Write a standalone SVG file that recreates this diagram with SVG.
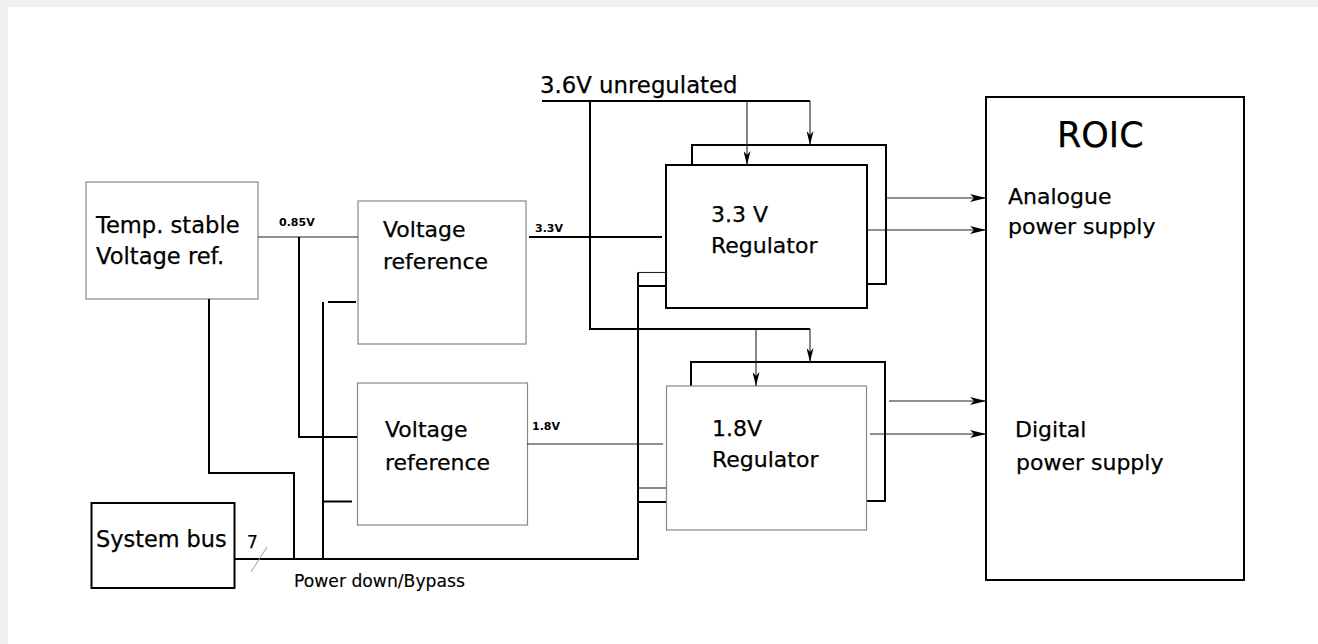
<svg xmlns="http://www.w3.org/2000/svg" width="1318" height="644" viewBox="0 0 1318 644">
<style>
.t{font-family:"DejaVu Sans","Liberation Sans",sans-serif;fill:#000;stroke:#000;stroke-width:0.25;font-size:22px}
.s{font-family:"DejaVu Sans","Liberation Sans",sans-serif;fill:#000;font-size:11px;font-weight:bold}
.box{fill:#fff;stroke:#000;stroke-width:2}
.gbox{fill:#fff;stroke:#888;stroke-width:1.2}
.w{fill:none;stroke:#000;stroke-width:2}
.n{fill:none;stroke:#222;stroke-width:1.1}
.g{fill:none;stroke:#999;stroke-width:1}
</style>
<defs>
<marker id="ad" markerUnits="userSpaceOnUse" viewBox="0 0 14 7" refX="14" refY="3.5" markerWidth="14" markerHeight="7" orient="auto">
<path d="M0,0 L14,3.5 L0,7 L4,3.5 Z" fill="#000"/>
</marker>
<marker id="ar" markerUnits="userSpaceOnUse" viewBox="0 0 16 8" refX="16" refY="4" markerWidth="16" markerHeight="8" orient="auto">
<path d="M0,0 L16,4 L0,8 L4,4 Z" fill="#000"/>
</marker>
</defs>
<rect x="0" y="0" width="1318" height="644" fill="#f0f0f0"/>
<rect x="8" y="7" width="1310" height="637" fill="#fff"/>

<g id="temp-ref">
<rect class="gbox" x="86" y="182" width="172" height="117"/>
<text class="t" x="96" y="233" style="font-size:22.6px">Temp. stable</text>
<text class="t" x="96" y="264" style="font-size:22.6px">Voltage ref.</text>
</g>

<g id="vref-33">
<rect class="gbox" x="358" y="201" width="168" height="143"/>
<text class="t" x="383" y="237">Voltage</text>
<text class="t" x="383" y="269">reference</text>
</g>

<g id="vref-18">
<rect class="gbox" x="357.5" y="383" width="170" height="142"/>
<text class="t" x="385" y="437">Voltage</text>
<text class="t" x="385" y="470">reference</text>
</g>

<g id="reg-33">
<rect class="box" x="692" y="145" width="194" height="139"/>
<rect class="box" x="666" y="165" width="201" height="143"/>
<text class="t" x="711" y="222">3.3 V</text>
<text class="t" x="711" y="253">Regulator</text>
</g>

<g id="reg-18">
<rect class="box" x="691" y="362" width="194" height="139"/>
<rect class="gbox" x="666.5" y="386" width="200" height="144"/>
<text class="t" x="712" y="436">1.8V</text>
<text class="t" x="712" y="467">Regulator</text>
</g>

<g id="roic">
<rect class="box" x="986" y="97" width="258" height="483"/>
<text class="t" x="1057" y="147" style="font-size:35px">ROIC</text>
<text class="t" x="1008" y="204">Analogue</text>
<text class="t" x="1008" y="234">power supply</text>
<text class="t" x="1015" y="437">Digital</text>
<text class="t" x="1016" y="470">power supply</text>
</g>

<g id="sysbus">
<rect class="box" x="91.5" y="503" width="143" height="85"/>
<text class="t" x="96" y="547" style="font-size:22.4px">System bus</text>
</g>

<g id="connectors">
<path class="w" d="M542,101 H810"/>
<path class="n" d="M810,101 V145" marker-end="url(#ad)"/>
<path class="n" d="M747,101 V165" marker-end="url(#ad)"/>
<path class="w" d="M590,101 V329 H810"/>
<path class="n" d="M810,329 V362" marker-end="url(#ad)"/>
<path class="n" d="M756,329 V386" marker-end="url(#ad)"/>

<path class="n" d="M258,237 H358"/>
<path class="w" d="M299,237 V437 H357"/>
<path class="w" d="M209,299 V473 H294 V559"/>
<path class="w" d="M323,559 V302"/>
<path class="w" d="M328,302 H356"/>
<path class="w" d="M323,501.5 H352"/>

<path class="w" d="M235,559 H638 V272.5"/>
<path class="n" d="M638,272.5 H666"/>
<path class="w" d="M638,286 H666"/>
<path class="n" d="M638,488 H666"/>
<path class="w" d="M638,502 H666"/>

<path class="w" d="M529,237 H662"/>
<path class="n" d="M527,444 H663"/>

<path class="n" d="M886,198 H986" marker-end="url(#ar)"/>
<path class="n" d="M867,230 H986" marker-end="url(#ar)"/>
<path class="n" d="M889,401 H986" marker-end="url(#ar)"/>
<path class="n" d="M870,434 H986" marker-end="url(#ar)"/>

<path class="g" d="M251,572 L267,547"/>
</g>

<g id="labels">
<text class="t" x="540" y="93" style="font-size:22.8px">3.6V unregulated</text>
<text class="s" x="279" y="226">0.85V</text>
<text class="s" x="535" y="232">3.3V</text>
<text class="s" x="532" y="430">1.8V</text>
<text class="t" x="247" y="548" style="font-size:17px">7</text>
<text class="t" x="294" y="587" style="font-size:17.2px;stroke-width:0.15">Power down/Bypass</text>
</g>
</svg>
